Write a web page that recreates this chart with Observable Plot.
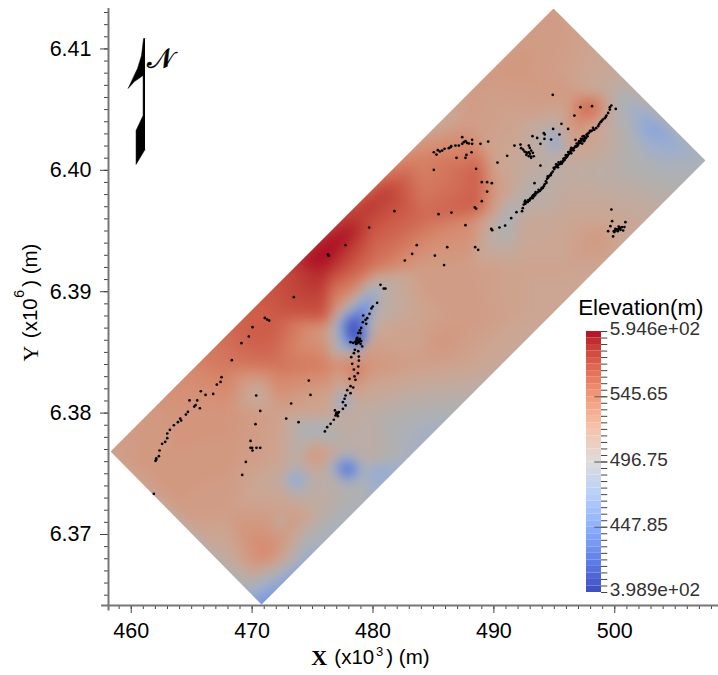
<!DOCTYPE html>
<html><head><meta charset="utf-8">
<style>html,body{margin:0;padding:0;background:#fff}#wrap{position:relative;width:718px;height:675px;overflow:hidden}#wrap svg{position:absolute;background:none}</style>
<script src="https://cdn.jsdelivr.net/npm/d3@7"></script>
<script src="https://cdn.jsdelivr.net/npm/@observablehq/plot@0.6"></script>
</head><body><div id="wrap"></div>
<script>
const xDomain=[458.12,508.58], yDomain=[6364.15,6413.33];
const xMajor=[460,470,480,490,500], yMajor=[6370,6380,6390,6400,6410];
const xMinor=d3.range(459,509), yMinor=d3.range(6365,6414);
const corners=[[458.29,6376.84],[494.93,6413.33],[507.5,6400.81],[470.78,6364.23],[458.29,6376.84]];
const elevMin=398.9, elevMax=594.6;
const barMajor=[545.65,496.75,447.85];
const barLabels=["5.946e+02","545.65","496.75","447.85","3.989e+02"];
const barLabelValues=[594.6,545.65,496.75,447.85,398.9];
const coolWarm=["#3b4cc0","#6282ea","#8db0fe","#b8d0f9","#dddcdc","#f5c4ac","#f49a7b","#de614d","#b40426"];
// elevation samples: x (km), y (km), elevation (m)
const elev=[
[458.29,6376.84,525],[494.93,6413.33,528],[507.5,6400.81,490],[470.78,6364.23,440],
[496,6412,528],[492,6408,532],[496,6408,525],[500,6408,515],[488,6408,530],
[484,6404,505],[488,6404,528],[492,6404,522],[496,6404,528],[500,6404,502],[504,6404,478],
[480,6400,545],[484,6400,550],[488,6400,562],[492,6400,514],[496,6400,508],[500,6400,502],[504,6400,492],[508,6400,488],
[476,6396,575],[480,6396,576],[484,6396,562],[488,6396,545],[492,6396,514],[496,6396,518],[500,6396,518],[504,6396,512],
[472,6392,575],[476,6392,590],[480,6392,556],[484,6392,530],[488,6392,528],[492,6392,522],[496,6392,522],[500,6392,520],
[468,6388,565],[472,6388,570],[476,6388,572],[480,6388,500],[484,6388,522],[488,6388,530],[492,6388,522],[496,6388,518],
[464,6384,545],[468,6384,555],[472,6384,558],[476,6384,552],[480,6384,535],[484,6384,526],[488,6384,522],[492,6384,512],
[460,6380,530],[464,6380,535],[468,6380,535],[472,6380,525],[476,6380,522],[480,6380,505],[484,6380,495],[488,6380,492],
[460,6376,530],[464,6376,533],[468,6376,532],[472,6376,522],[476,6376,520],[480,6376,505],[484,6376,482],
[464,6372,530],[468,6372,527],[472,6372,525],[476,6372,508],[480,6372,488],
[468,6368,512],[472,6368,530],[476,6368,480],
[470,6365.5,482],
[497.99,6405.34,570],[496.75,6403.3,532],[498.4,6403.7,522],[496.3,6406.2,530],[499.5,6406.5,510],
[495.09,6402.21,445],[494,6403.2,502],[496,6402.6,515],[495.1,6400.8,505],[495.1,6403.7,505],
[502.95,6403.69,455],[504.6,6402.9,462],[501.7,6405.3,480],[506.3,6401.6,478],[501.3,6402.5,495],[503,6400.8,490],
[475.5,6392.4,602],[481.03,6398.3,582],[478.15,6395.04,592],[479.5,6397,585],[478.1,6396.3,582],[482.3,6399.2,570],[470.7,6386,568],[483.5,6401,548],
[478.3,6387.2,375],[478.8,6386,380],[479.4,6388.5,425],[477.56,6385.57,468],[477.3,6387.2,462],[480.2,6386.8,520],
[481.03,6390.9,505],[476.07,6386.8,530],[476.9,6388.45,535],[477.7,6384.3,540],[479,6384.7,530],
[478.3,6383.3,558],[477.56,6381,450],[476.5,6381,520],[478.6,6381,515],[477.5,6382.4,515],[477.5,6379.7,510],
[477.9,6375.35,395],[477.9,6377,505],[477.9,6373.8,500],[476.3,6375.35,505],[479.4,6375.35,488],
[473.67,6374.45,450],[473.67,6376,505],[473.67,6373,510],[472.2,6374.45,512],[475.2,6374.45,505],
[480.2,6375.3,462],[477.3,6371.6,492],[475.65,6367.86,450],[474.5,6369.5,495],
[469.5,6365.5,490],[471.4,6368.7,544],[470.5,6367.9,540],[473.2,6371.2,534],[472.6,6371.26,492],
[485.6,6377.7,475],[483,6378,488],[475,6378.8,485],[470.6,6381.6,508],[475,6376.67,538],
[488.5,6396.9,568],[488.5,6400.1,570],[490.2,6398,530],[490,6401,522],[491.4,6396.1,485],[493,6398,498],[498.8,6394.6,532],[485.5,6385.7,534]
];
const dots=[[499.72,6405.34],[499.59,6405.2],[499.59,6405],[499.45,6404.73],[499.31,6404.51],[499.17,6404.29],[499.01,6404.18],[498.81,6403.96],[498.62,6403.63],[498.46,6403.47],[498.12,6403.28],[497.85,6403.08],[497.66,6402.92],[497.44,6402.81],[497.33,6402.59],[497.16,6402.37],[496.97,6402.1],[496.75,6401.99],[496.53,6401.77],[496.33,6401.55],[496.2,6401.35],[496.06,6401.14],[495.92,6401],[495.73,6400.75],[495.51,6400.53],[495.31,6400.45],[495.09,6400.26],[494.87,6399.9],[494.62,6399.57],[494.4,6399.3],[494.35,6398.97],[494.13,6398.69],[493.91,6398.42],[493.63,6398.2],[493.36,6398.03],[493.16,6397.84],[492.94,6397.51],[492.69,6397.37],[492.47,6397.18],[492.39,6396.88],
[498,6403.2],[497.75,6403],[497.55,6402.7],[497.4,6402.55],[497.25,6402.45],[497.1,6402.25],[497.05,6402.4],[496.9,6402],[496.65,6401.85],[496.45,6401.65],[496.4,6401.85],[496.25,6401.45],[496.1,6401.25],[495.98,6401.05],[495.85,6400.85],[495.65,6400.65],[495.4,6400.5],[495.2,6400.35],[495,6400.1],[494.95,6400.2],[494.75,6399.75],[494.5,6399.4],[494.3,6399.1],[494.2,6398.85],[494.05,6398.55],[493.8,6398.3],[493.5,6398.1],[493.45,6398.2],[493.25,6397.95],[493.05,6397.7],[492.85,6397.55],[492.6,6397.25],[492.55,6397.4],[499.25,6404.4],[498.9,6404.05],[498.7,6403.8],[498.3,6403.35],[496,6401.2],[495.6,6400.55],[495.85,6401],[493.75,6398.3],[493.3,6397.85],[497.5,6402.5],[497.35,6402.8],[497.2,6402.6],[496.85,6402.2],[496.4,6401.4],[495.3,6400.25],
[497.6,6402.65],[497.45,6402.4],[497.3,6402.2],[497,6402.25],[496.8,6401.95],[496.6,6401.65],[496.35,6401.7],[496.15,6401.5],[495.95,6401.25],[495.75,6400.95],[495.55,6400.7],[495.35,6400.65],[495.15,6400.5],[494.7,6399.6],[494.45,6399.5],[493.95,6398.55],[493.7,6398.4],[493.4,6397.95],[493.2,6397.7],[493,6397.65],[492.8,6397.4],[492.6,6397.5],[498.2,6403.5],[497.95,6403.25],[497.75,6402.8],
[498.12,6405.28],[497.16,6405.2],[496.66,6404.51],[496.14,6403.41],[495.59,6403.83],[494.9,6403.41],[495.42,6402.95],[494.73,6402.54],[494.13,6403.06],[494.21,6402.95],[494.18,6402.59],[493.85,6402.18],[493.58,6402.67],[493.19,6402.81],[496.75,6402.51],[492.2,6402.12],[491.7,6402.04],[493.85,6400.39],[493.36,6398.94],[491.87,6396.55],[492.33,6396.63],[491.43,6396.06],[499.72,6396.77],[499.78,6395.81],[500.88,6395.73],[500.08,6405.06],
[492.25,6401.82],[492.42,6401.71],[492.53,6401.55],[492.64,6401.49],[492.75,6401.44],[492.89,6401.49],[492.97,6401.36],[492.69,6401.27],[492.89,6401.16],[493.08,6401.14],[493.3,6401.16],[493.08,6401.03],[492.89,6402.04],[492.97,6401.85],[493.08,6401.63],[493.22,6401.44],
[499.64,6395.4],[499.45,6394.99],[500.69,6395.04],[499.86,6394.55],[499.92,6394.99],[500.05,6395.04],[500.19,6395.13],[500.33,6395.18],[500.47,6395.26],[500.6,6395.32],[500.8,6395.32],[500.05,6395.18],[500.25,6394.99],[499.97,6394.91],[500.47,6395.1],[500.33,6395.37],[494.87,6406.22],
[485.03,6401.49],[485.25,6401.3],[485.36,6401.66],[485.53,6401.55],[485.72,6401.63],[485.92,6401.77],[486.27,6401.82],[486.41,6401.9],[486.47,6401.99],[486.82,6402.04],[487.1,6402.04],[487.38,6402.73],[487.38,6402.18],[487.51,6402.32],[487.65,6402.4],[487.79,6402.26],[487.93,6402.21],[488.2,6402.51],[488.2,6402.18],[488.89,6402.18],[489.53,6402.37],[488.15,6401.49],[487.73,6401.27],[487.65,6401.03],[486.91,6401.03],[485.03,6400.04],[488.53,6400.12],[490.3,6400.64],[489,6399.02],[489.44,6399.02],[489.83,6398.94],[489.44,6398.25],[489,6397.46],[488.42,6396.94],[488.53,6396.85],[485.42,6396.39],[486.49,6396.52],[487.65,6395.48],[489.78,6395.18],[489.86,6395.07],[490.46,6395.29],[490.93,6395.45],[486.14,6393.67],[488.45,6393.67],[488.7,6393.45],[485.12,6392.98],[491.1,6401.19],
[481.77,6396.63],[479.68,6395.29],[477.72,6393.83],[483.62,6393.83],[476.26,6393.06],[476.34,6392.95],[483.24,6393.12],[482.63,6392.57],[485.88,6392.19],[473.45,6389.55],[480.62,6390.57],[480.89,6390.26],[481.03,6390.26],[480.34,6389.08],[479.98,6388.78],[479.87,6388.62],
[479.71,6388.18],[479.19,6388.04],[479.52,6387.82],[479.38,6387.68],[479.16,6387.49],[479.44,6387.35],[479.02,6387.02],[478.91,6386.81],[478.78,6386.59],[478.97,6386.59],[478.64,6386.12],[478.78,6386.04],[478.91,6386.12],[479.02,6385.93],[478.55,6385.84],[478.69,6385.76],[478.83,6385.84],[478.36,6385.79],[478.14,6385.84],[478.97,6385.71],[479.11,6385.49],[478.5,6385.21],[478.78,6385.1],[478.42,6384.94],[478.2,6384.61],[478.83,6384.66],[478.83,6384.33],[478.28,6384.06],[478.78,6383.84],[478.42,6383.59],[478.75,6383.29],[478.47,6383.02],[478.06,6382.82],[478.55,6382.74],[478.14,6382.22],[478.36,6382.11],[477.87,6381.89],[478.14,6381.64],[477.73,6381.45],[477.65,6381.18],[477.51,6380.9],[477.73,6380.63],[477.51,6380.35],[476.85,6380.22],[477.18,6380.08],[477.04,6379.94],[476.9,6379.8],[477.09,6379.75],[476.76,6379.45],[476.49,6379.12],[476.21,6378.84],[476.02,6378.49],[478.6,6385.95],[478.75,6385.95],[478.7,6386.2],[478.85,6386],[478.6,6385.7],[477,6380.05],[476.95,6379.95],[477.1,6380],
[467.47,6382.96],[467.39,6382.57],[467.08,6382.35],[466.78,6381.58],[465.76,6381.8],[466.15,6381.5],[464.82,6381.04],[465.46,6381.04],[465.32,6380.65],[465.21,6380.54],[465.68,6380.4],[464.69,6380.1],[464.52,6379.88],[464.05,6379.55],[464.13,6379.39],[463.86,6379.25],[463.53,6379],[463.2,6378.62],[462.98,6378.32],[462.98,6377.93],[462.81,6377.63],[462.56,6377.47],[462.34,6376.92],[462.29,6376.45],[462.07,6376.28],[462.07,6376.15],[462.01,6376.07],[461.87,6373.35],[470.34,6381.45],[470.67,6380.18],[470.28,6379.09],[469.87,6377.71],[469.87,6377.14],[470,6377.14],[470.36,6377.14],[470.67,6377.14],[470.03,6376.92],[469.48,6375.98],[469.18,6374.91],
[471.05,6387.84],[471.24,6387.71],[471.41,6387.62],[470.03,6387.08],[469.73,6386.31],[469.12,6385.76],[468.32,6384.36],[474.69,6382.68],[474.83,6381.5],[473.23,6380.79],[472.82,6379.55],[473.84,6379.25]
];
const northArrow=[[461.14,6410.86],[461.02,6410.86],[460.85,6409.46],[460.52,6408.39],[459.74,6406.74],[460.27,6407.31],[460.98,6407.81],[460.98,6404.51],[460.4,6403.28],[460.4,6400.48],[461.14,6401.71]];

const sans="Liberation Sans, Arial, sans-serif", serif="Liberation Serif, serif";
const stopAt=coolWarm.map((c,i)=>elevMin+(elevMax-elevMin)*i/(coolWarm.length-1));
const palette=d3.scaleLinear().domain(stopAt).range(coolWarm).interpolate(d3.interpolateLab);
function dim(c,t){const f=0.80+0.16*Math.abs(t-.5)*2;const r=d3.rgb(c);return d3.rgb(r.r*f,r.g*f,r.b*f).formatHex();}
const nBands=64;
const thresholds=d3.range(1,nBands).map(i=>elevMin+(elevMax-elevMin)*i/nBands);
const bandColors=d3.range(nBands).map(i=>dim(palette(elevMin+(elevMax-elevMin)*(i+.5)/nBands),(i+.5)/nBands));

const main=Plot.plot({
  width:718,height:675,marginLeft:108,marginRight:0,marginTop:8,marginBottom:70,
  style:{fontFamily:sans,background:"none"},
  x:{domain:xDomain,label:null},
  y:{domain:yDomain,label:null},
  color:{type:"threshold",domain:thresholds,range:bandColors},
  marks:[
    Plot.raster(elev,{x:d=>d[0],y:d=>d[1],fill:d=>d[2],interpolate:"barycentric",pixelSize:1,blur:5,
      x1:xDomain[0],x2:xDomain[1],y1:yDomain[0],y2:yDomain[1],
      clip:{type:"Polygon",coordinates:[corners]}}),
    Plot.dot(dots,{x:d=>d[0],y:d=>d[1],r:1.35,fill:"black",stroke:"none"}),
    Plot.line(northArrow,{x:d=>d[0],y:d=>d[1],fill:"black",stroke:"black",strokeWidth:0.5}),
    Plot.text(["𝒩"],{x:[462.4],y:[6409.2],fontSize:28,fontFamily:serif,fill:"black",stroke:"black",strokeWidth:0.5}),
    Plot.axisX(xMinor,{tickSize:4,tickFormat:()=>"",stroke:"#444",label:null}),
    Plot.axisY(yMinor,{tickSize:4,tickFormat:()=>"",stroke:"#444",label:null}),
    Plot.axisX(xMajor,{tickSize:8,tickPadding:9,fontSize:21.5,stroke:"#444",fill:"black",label:null,tickFormat:d=>String(d)}),
    Plot.axisY(yMajor,{tickSize:8,tickPadding:9,fontSize:21.5,stroke:"#444",fill:"black",label:null,tickFormat:d=>(d/1000).toFixed(2)}),
    Plot.ruleX([xDomain[0]],{stroke:"#777",strokeWidth:2,y1:6363.7,y2:yDomain[1]}),
    Plot.ruleY([yDomain[0]],{stroke:"#777",strokeWidth:2,x1:457.55,x2:xDomain[1]}),
    Plot.text(["X"],{x:[474.9],y:[6359.87],fontFamily:serif,fontWeight:"bold",fontSize:22,textAnchor:"start",fill:"black"}),
    Plot.text(["(x10"],{x:[476.8],y:[6359.87],fontSize:20.5,textAnchor:"start",fill:"black"}),
    Plot.text(["3"],{x:[480.25],y:[6360.35],fontSize:13,textAnchor:"start",fill:"black"}),
    Plot.text([") (m)"],{x:[481.1],y:[6359.87],fontSize:20.5,textAnchor:"start",fill:"black"}),
    Plot.text(["Y"],{x:[451.7],y:[6384.9],rotate:-90,fontFamily:serif,fontSize:22,fill:"black"}),
    Plot.text(["(x10"],{x:[451.7],y:[6386.17],rotate:-90,fontSize:20.5,textAnchor:"start",fill:"black"}),
    Plot.text(["6"],{x:[450.75],y:[6389.5],rotate:-90,fontSize:14,textAnchor:"start",fill:"black"}),
    Plot.text([") (m)"],{x:[451.7],y:[6390.4],rotate:-90,fontSize:20.5,textAnchor:"start",fill:"black"})
  ]
});
main.style.left="0";main.style.top="0";
document.getElementById("wrap").appendChild(main);

const nBarBands=40;
const barBands=d3.range(nBarBands).map(i=>({a:elevMin+(elevMax-elevMin)*i/nBarBands,b:elevMin+(elevMax-elevMin)*(i+1)/nBarBands}));
const barMinor=d3.range(0,41).map(i=>elevMax-(elevMax-elevMin)*i/40);
const bar=Plot.plot({
  width:148,height:320,marginLeft:16,marginRight:117,marginTop:41,marginBottom:18,
  style:{fontFamily:sans,background:"none",overflow:"visible"},
  x:{domain:[0,1],axis:null},
  y:{domain:[elevMin,elevMax],axis:null},
  marks:[
    Plot.rectY(barBands,{x1:0,x2:1,y1:"a",y2:"b",fill:d=>palette((d.a+d.b)/2)}),
    Plot.ruleY(barMinor,{x1:1,x2:1.42,stroke:"#444",strokeWidth:1}),
    Plot.ruleY(barMajor,{x1:.55,x2:1.42,stroke:"#555",strokeWidth:1}),
    Plot.text(barLabels,{x:()=>1.55,y:(d,i)=>barLabelValues[i],dy:-2.5,textAnchor:"start",fontSize:19,fill:"#333"}),
    Plot.text(["Elevation(m)"],{x:[-.55],y:[elevMax],dy:-24,textAnchor:"start",fontSize:22.3,fill:"black"})
  ]
});
bar.style.left="570px";bar.style.top="290px";
document.getElementById("wrap").appendChild(bar);
</script></body></html>
